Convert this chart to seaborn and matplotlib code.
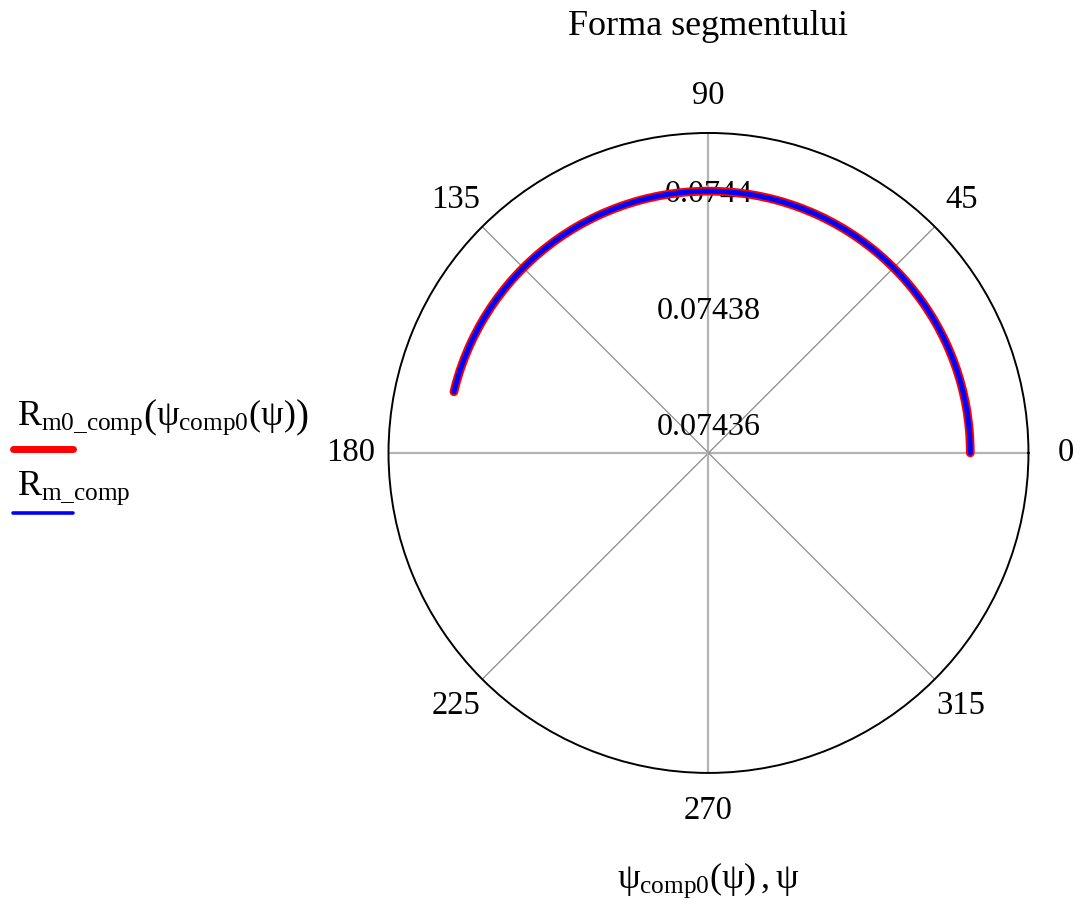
import numpy as np
import pandas as pd
import matplotlib
matplotlib.use("Agg")
import matplotlib.pyplot as plt
from matplotlib.lines import Line2D
import seaborn as sns

# Segment shape: angle (degrees) and radius for both curves
psi_deg = [0, 10, 20, 30, 40, 45, 50, 60, 70, 80, 90, 100, 110, 120, 130, 135,
           140, 150, 160, 166.5]
r_m0_comp = [0.07440, 0.07440, 0.07440, 0.07440, 0.07440, 0.07440, 0.07440,
             0.07440, 0.07440, 0.07440, 0.07440, 0.07440, 0.07440, 0.07440,
             0.07440, 0.07440, 0.07440, 0.07440, 0.07440, 0.07440]
r_m_comp = [0.07440, 0.07440, 0.07440, 0.07440, 0.07440, 0.07440, 0.07440,
            0.07440, 0.07440, 0.07440, 0.07440, 0.07440, 0.07440, 0.07440,
            0.07440, 0.07440, 0.07440, 0.07440, 0.07440, 0.07440]

theta_ticks = [0, 45, 90, 135, 180, 225, 270, 315]
r_ticks = [0.07436, 0.07438, 0.0744]
r_tick_labels = ["0.07436", "0.07438", "0.0744"]
r_limits = (0.074355, 0.07441)

title = "Forma segmentului"
xlabel = r"$\psi_{\mathrm{comp0}}(\psi)\,,\psi$"
legend_labels = [r"$R_{\mathrm{m0\_comp}}\left(\psi_{\mathrm{comp0}}(\psi)\right)$",
                 r"$R_{\mathrm{m\_comp}}$"]

sns.set_theme(style="white")
plt.rcParams["font.family"] = ["Liberation Serif", "DejaVu Serif"]
plt.rcParams["mathtext.fontset"] = "custom"
plt.rcParams["mathtext.rm"] = "Liberation Serif"
plt.rcParams["mathtext.it"] = "Liberation Serif"
plt.rcParams["mathtext.bf"] = "Liberation Serif:bold"
plt.rcParams["text.color"] = "black"
plt.rcParams["axes.labelcolor"] = "black"

FS_TICK = 23.5
FS_R = 23
FS_TEXT = 26

df = pd.DataFrame({
    "theta": np.deg2rad(psi_deg),
    "r0": r_m0_comp,
    "r": r_m_comp,
})

fig = plt.figure(figsize=(10.81, 9.05), dpi=100)
ax = fig.add_axes([0.3594, 0.1459, 0.592, 0.7072], projection="polar")

sns.lineplot(data=df, x="theta", y="r0", ax=ax, color="#ff0000", lw=6.3,
             sort=False, zorder=4, solid_capstyle="round")
sns.lineplot(data=df, x="theta", y="r", ax=ax, color="#0000ff", lw=3.6,
             sort=False, zorder=5, solid_capstyle="round")
# follow the polar geometry between data points (arcs instead of chords)
for ln in ax.lines:
    ln.get_path()._interpolation_steps = 40

ax.set_ylim(*r_limits)
ax.set_ylabel("")

# angular grid: spokes every 45 degrees
ax.set_thetagrids(theta_ticks, labels=[str(t) for t in theta_ticks],
                  fontsize=FS_TICK)
ax.tick_params(axis="x", pad=14, colors="black")
ax.xaxis.grid(True)
for i, gl in enumerate(ax.xaxis.get_gridlines()):
    if theta_ticks[i] % 90 == 0:
        gl.set_color("#b4b4b4")
        gl.set_linewidth(1.6)
    else:
        gl.set_color("#8c8c8c")
        gl.set_linewidth(0.9)

# radial ticks: labels along the 90 degree spoke, no rings
ax.set_yticks(r_ticks)
ax.set_yticklabels([])
ax.yaxis.grid(False)
for v, lab in zip(r_ticks, r_tick_labels):
    ax.text(np.pi / 2, v, lab, ha="center", va="center_baseline",
            fontsize=FS_R, color="black", zorder=3)

ax.spines["polar"].set_color("black")
ax.spines["polar"].set_linewidth(1.4)

ax.set_title(title, fontsize=FS_TEXT, y=1.14, va="baseline", color="black")
ax.set_xlabel(xlabel, fontsize=FS_TEXT)
ax.xaxis.set_label_coords(0.5, -0.167)
ax.xaxis.label.set_verticalalignment("center")

# legend block on the left: label above a short line sample
fig.text(17 / 1081, 1 - 418 / 905, legend_labels[0], fontsize=FS_TEXT,
         ha="left", va="center", color="black")
fig.add_artist(Line2D([13 / 1081, 73 / 1081], [1 - 449 / 905, 1 - 449 / 905],
                      color="#ff0000", lw=5.0, solid_capstyle="round",
                      transform=fig.transFigure))
fig.text(17 / 1081, 1 - 488 / 905, legend_labels[1], fontsize=FS_TEXT,
         ha="left", va="center", color="black")
fig.add_artist(Line2D([13 / 1081, 73 / 1081], [1 - 513 / 905, 1 - 513 / 905],
                      color="#0000ff", lw=2.6, solid_capstyle="round",
                      transform=fig.transFigure))

fig.savefig("out.png", dpi=100)
